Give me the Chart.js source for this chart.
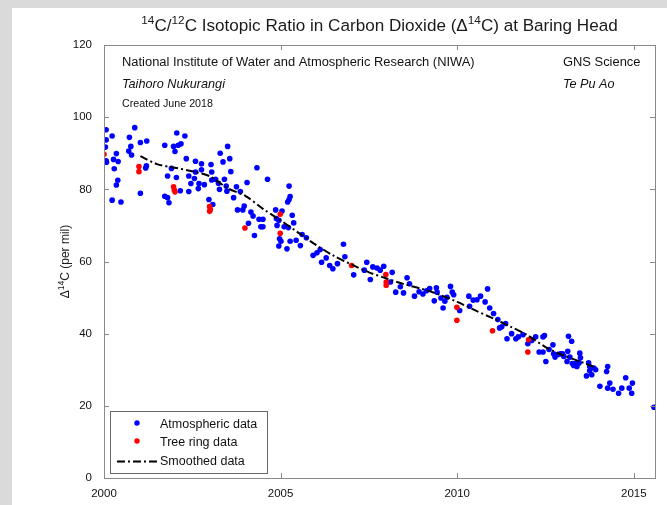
<!DOCTYPE html>
<html>
<head>
<meta charset="utf-8">
<script src="https://cdn.jsdelivr.net/npm/chart.js@4"></script>
<style>
html,body{margin:0;padding:0;background:#fff;}
canvas{display:block;}
</style>
</head>
<body>
<canvas id="c" width="667" height="505"></canvas>
<script>
// ---- data ----
const atmYears = [
2000.06,2000.06,2000.04,2000.06,2000.07,2000.23,2000.35,2000.27,2000.40,2000.29,2000.39,2000.35,2000.23,2000.48,
2000.70,2000.76,2000.72,2000.87,2000.78,2001.03,2001.21,2001.20,2001.18,2001.03,2001.72,2002.06,2002.29,2001.97,
2002.10,2002.18,2002.01,2002.33,2001.91,2001.80,2002.05,2001.72,2001.80,2001.84,2002.16,2002.40,2002.40,2002.46,
2002.56,2002.59,2002.59,2002.69,2002.67,2002.76,2002.76,2002.84,2003.03,2003.05,2003.05,2003.24,2003.29,2003.37,
2003.50,2003.56,2003.59,2003.46,2003.48,2003.67,2002.97,2003.08,2003.78,2003.16,2003.27,2003.41,2003.75,2003.86,
2004.05,2004.33,2004.63,2003.93,2003.97,2004.16,2004.22,2004.09,2004.26,2004.39,2004.50,2004.44,2004.50,2004.86,
2005.04,2005.24,2005.27,2005.24,2005.20,2004.88,2004.95,2004.90,2005.33,2005.37,2005.10,2005.22,2004.97,2005.01,
2004.95,2005.18,2005.27,2005.44,2005.56,2005.61,2005.73,2005.92,2006.03,2006.12,2006.16,2006.29,2006.39,2006.48,
2006.61,2006.78,2006.82,2007.07,2007.37,2007.44,2007.54,2007.61,2007.73,2007.82,2007.92,2008.16,2008.11,2008.26,
2008.39,2008.48,2008.58,2008.65,2008.79,2008.92,2009.03,2009.13,2009.22,2009.35,2009.41,2009.43,2009.54,2009.65,
2009.60,2009.71,2009.81,2009.86,2009.90,2010.07,2010.33,2010.35,2010.45,2010.56,2010.66,2010.79,2010.86,2010.92,
2011.03,2011.15,2011.20,2011.26,2011.37,2011.41,2011.54,2011.66,2011.73,2011.86,2012.00,2012.11,2012.22,2012.32,
2012.43,2012.43,2012.47,2012.51,2012.60,2012.71,2012.73,2012.77,2012.85,2012.92,2012.98,2013.02,2013.13,2013.15,
2013.24,2013.19,2013.11,2013.26,2013.30,2013.36,2013.39,2013.47,2013.49,2013.45,2013.72,2013.75,2013.75,2013.66,
2013.81,2013.87,2013.92,2014.04,2014.23,2014.26,2014.26,2014.32,2014.41,2014.57,2014.66,2014.77,2014.87,2014.96,
2014.94,2015.57
];
const atmValues = [
96.5,93.7,91.7,87.9,87.5,94.8,89.9,88.3,87.7,85.7,82.5,81.2,77.0,76.5,
90.6,91.9,94.4,97.1,89.5,93.0,93.4,86.5,85.9,78.9,92.2,95.6,94.8,91.9,
92.2,92.6,90.5,88.5,85.8,83.7,83.3,78.1,77.7,76.3,79.6,83.7,79.4,81.6,
83.0,87.8,84.8,81.6,80.2,85.4,87.1,81.3,86.9,84.8,82.6,81.7,90.0,87.6,
91.9,88.5,84.9,80.9,79.5,77.7,77.2,75.8,74.3,82.8,80.0,82.8,80.7,79.4,
81.9,86.0,82.8,74.3,75.4,73.7,72.6,70.6,67.2,71.7,71.7,69.6,69.6,74.3,
74.0,80.9,78.0,77.2,76.5,71.9,71.4,70.0,72.8,70.7,69.6,69.4,66.3,65.6,
64.3,63.5,65.6,65.9,64.4,67.5,66.6,61.7,62.4,63.3,59.8,61.0,58.9,58.0,
59.4,64.8,61.3,56.3,57.6,59.8,55.0,58.5,58.2,57.6,58.7,57.0,54.3,51.5,
53.0,51.3,55.5,53.8,50.4,51.6,51.0,51.9,52.5,49.1,52.7,51.5,49.9,49.0,
47.1,50.1,53.1,51.5,50.8,46.4,50.4,47.6,49.3,49.4,50.4,48.8,52.4,47.1,
45.6,43.9,41.6,41.9,42.8,38.6,40.0,38.6,39.1,39.7,37.2,38.1,39.1,34.9,
34.9,39.1,39.5,32.3,35.6,36.9,34.4,33.5,34.2,34.4,34.4,33.7,35.1,39.3,
37.9,33.5,32.3,31.7,31.2,31.7,30.9,34.6,33.3,31.9,31.9,30.9,29.7,28.3,
28.6,30.5,30.0,25.4,29.5,30.9,24.9,26.3,24.6,23.5,24.9,27.8,24.9,26.3,
23.5,19.6
];
const treeYears = [2000.00,2000.99,2000.99,2001.97,2001.99,2002.01,2002.99,2003.01,2002.99,2003.99,2004.99,2004.99,
2007.01,2007.98,2007.99,2007.99,2009.99,2009.99,2011.00,2012.02,2012.00];
const treeValues = [89.7,86.3,84.9,80.7,79.8,79.3,75.2,74.4,73.9,69.3,73.1,67.8,
58.9,56.4,54.3,53.4,47.3,43.7,40.8,38.3,34.9];
const smoothYears = [2001.03,2001.5,2002.0,2002.5,2003.0,2003.5,2004.0,2004.5,2005.0,2005.5,2006.0,2006.5,2007.0,
2007.5,2008.0,2008.5,2009.0,2009.5,2010.0,2010.5,2011.0,2011.5,2012.0,2012.5,2013.0,2013.5,2013.95];
const smoothValues = [89.2,87.0,86.0,85.0,83.6,80.3,78.2,74.6,71.4,68.0,64.6,61.6,59.2,
57.0,55.3,53.7,52.4,50.8,48.8,46.5,44.3,42.0,39.5,36.3,34.0,32.2,30.5];
const xTickValues = [2000, 2005, 2010, 2015];
const yTickValues = [0, 20, 40, 60, 80, 100, 120];
const seriesNames = ['Atmospheric data', 'Tree ring data', 'Smoothed data'];
const titleParts = [['14',1],['C/',0],['12',1],['C Isotopic Ratio in Carbon Dioxide (\u0394',0],['14',1],['C) at Baring Head',0]];
const yLabelParts = [['\u0394',0],['14',1],['C (per mil)',0]];
const noteLeft = ['National Institute of Water and Atmospheric Research (NIWA)', 'Taihoro Nukurangi', 'Created June 2018'];
const noteRight = ['GNS Science', 'Te Pu Ao'];

const FONT = '"Liberation Sans", Arial, Helvetica, sans-serif';
const AXIS_COLOR = '#8a8a8a';

function toPts(xs, ys){ return xs.map((x,i)=>({x:x, y:ys[i]})); }

function fitFont(ctx, text, target, style){
  ctx.font = (style ? style + ' ' : '') + '20px ' + FONT;
  const w = ctx.measureText(text).width;
  return 20 * target / w;
}

function drawParts(ctx, parts, size, supSize, cx, y, align){
  let widths = parts.map(p=>{ ctx.font = (p[1]?supSize:size)+'px '+FONT; return ctx.measureText(p[0]).width; });
  const total = widths.reduce((a,b)=>a+b,0);
  let x = align==='center' ? cx - total/2 : cx;
  ctx.textBaseline = 'alphabetic';
  ctx.textAlign = 'left';
  parts.forEach((p,i)=>{
    ctx.font = (p[1]?supSize:size)+'px '+FONT;
    ctx.fillText(p[0], x, p[1] ? y - size*0.42 : y);
    x += widths[i];
  });
  return total;
}

const decor = {
  id: 'decor',
  beforeDraw(chart){
    const ctx = chart.ctx;
    ctx.save();
    ctx.fillStyle = '#dadada';
    ctx.fillRect(0,0,chart.width,chart.height);
    ctx.fillStyle = '#ffffff';
    ctx.fillRect(12,8,chart.width-12,chart.height-8);
    ctx.restore();
  },
  afterDatasetsDraw(chart){
    const ctx = chart.ctx, a = chart.chartArea;
    const xs = chart.scales.x, ys = chart.scales.y;
    ctx.save();
    // box
    ctx.strokeStyle = AXIS_COLOR; ctx.lineWidth = 1;
    ctx.strokeRect(Math.round(a.left)+0.5, Math.round(a.top)+0.5, Math.round(a.right-a.left), Math.round(a.bottom-a.top));
    // inward ticks
    ctx.beginPath();
    xTickValues.forEach(v=>{
      const px = Math.round(xs.getPixelForValue(v))+0.5;
      ctx.moveTo(px, a.bottom); ctx.lineTo(px, a.bottom-5);
      ctx.moveTo(px, a.top); ctx.lineTo(px, a.top+5);
    });
    yTickValues.forEach(v=>{
      const py = Math.round(ys.getPixelForValue(v))+0.5;
      ctx.moveTo(a.left, py); ctx.lineTo(a.left+5, py);
      ctx.moveTo(a.right, py); ctx.lineTo(a.right-5, py);
    });
    ctx.stroke();

    // title
    ctx.fillStyle = '#1a1a1a';
    drawParts(ctx, titleParts, 17.1, 11.8, (a.left+a.right)/2, 31, 'center');

    // y-axis label
    ctx.save();
    ctx.translate(69, (a.top+a.bottom)/2);
    ctx.rotate(-Math.PI/2);
    drawParts(ctx, yLabelParts, 12, 8.5, 0, 0, 'center');
    ctx.restore();

    // notes
    ctx.fillStyle = '#111';
    ctx.textBaseline = 'middle';
    ctx.textAlign = 'left';
    const s1 = fitFont(ctx, noteLeft[0], 353, '');
    ctx.font = s1 + 'px ' + FONT; ctx.fillText(noteLeft[0], 122, 62);
    const s2 = fitFont(ctx, noteLeft[1], 103, 'italic');
    ctx.font = 'italic ' + s2 + 'px ' + FONT; ctx.fillText(noteLeft[1], 122, 84);
    const s3 = fitFont(ctx, noteLeft[2], 91, '');
    ctx.font = s3 + 'px ' + FONT; ctx.fillText(noteLeft[2], 122, 104);
    ctx.font = s1 + 'px ' + FONT; ctx.fillText(noteRight[0], 563, 62);
    ctx.font = 'italic ' + s2 + 'px ' + FONT; ctx.fillText(noteRight[1], 563, 84);

    // legend box
    const lx = 110, ly = 411, lw = 157, lh = 62;
    ctx.fillStyle = '#fff';
    ctx.fillRect(lx, ly, lw, lh);
    ctx.strokeStyle = '#6a6a6a';
    ctx.strokeRect(lx+0.5, ly+0.5, lw, lh);
    ctx.font = '12.5px ' + FONT;
    ctx.textBaseline = 'middle';
    const rows = [425, 443, 462];
    ctx.fillStyle = '#0000ff';
    ctx.beginPath(); ctx.arc(137, 423, 2.7, 0, Math.PI*2); ctx.fill();
    ctx.fillStyle = '#ff0000';
    ctx.beginPath(); ctx.arc(137, 441, 2.7, 0, Math.PI*2); ctx.fill();
    ctx.strokeStyle = '#000'; ctx.lineWidth = 2; ctx.setLineDash([8,3,2,3]);
    ctx.beginPath(); ctx.moveTo(117, 461.5); ctx.lineTo(157, 461.5); ctx.stroke();
    ctx.setLineDash([]);
    ctx.fillStyle = '#111';
    seriesNames.forEach((n,i)=>{ ctx.fillText(n, 160, rows[i]); });
    ctx.restore();
  }
};

new Chart(document.getElementById('c'), {
  type: 'scatter',
  data: {
    datasets: [
      { label: seriesNames[2], data: toPts(smoothYears, smoothValues), showLine: true, borderColor: '#000',
        borderWidth: 2, borderDash: [8,3,2,3], pointRadius: 0, fill: false, tension: 0.3 },
      { label: seriesNames[1], data: toPts(treeYears, treeValues), backgroundColor: '#ff0000', borderColor: '#ff0000',
        pointRadius: 2.8, pointBorderWidth: 0 },
      { label: seriesNames[0], data: toPts(atmYears, atmValues), backgroundColor: '#0000ff', borderColor: '#0000ff',
        pointRadius: 2.8, pointBorderWidth: 0 }
    ]
  },
  options: {
    responsive: false,
    animation: false,
    devicePixelRatio: 1,
    layout: { padding: { top: 45, right: 12, left: 0, bottom: 0 } },
    plugins: { legend: { display: false }, tooltip: { enabled: false }, title: { display: false } },
    scales: {
      x: {
        type: 'linear', min: 2000, max: 2015.6,
        grid: { display: false }, border: { display: false },
        afterBuildTicks: sc => { sc.ticks = xTickValues.map(v=>({value:v})); },
        afterFit: sc => { sc.height = 27; },
        ticks: { padding: 1, color: '#111', font: { family: FONT, size: 11.5 }, maxRotation: 0, autoSkip: false,
          callback: v => String(v) }
      },
      y: {
        type: 'linear', min: 0, max: 120,
        grid: { display: false }, border: { display: false },
        afterBuildTicks: sc => { sc.ticks = yTickValues.map(v=>({value:v})); },
        afterFit: sc => { sc.width = 104; },
        ticks: { padding: 4, color: '#111', font: { family: FONT, size: 11.5 }, autoSkip: false }
      }
    }
  },
  plugins: [decor]
});
</script>
</body>
</html>
